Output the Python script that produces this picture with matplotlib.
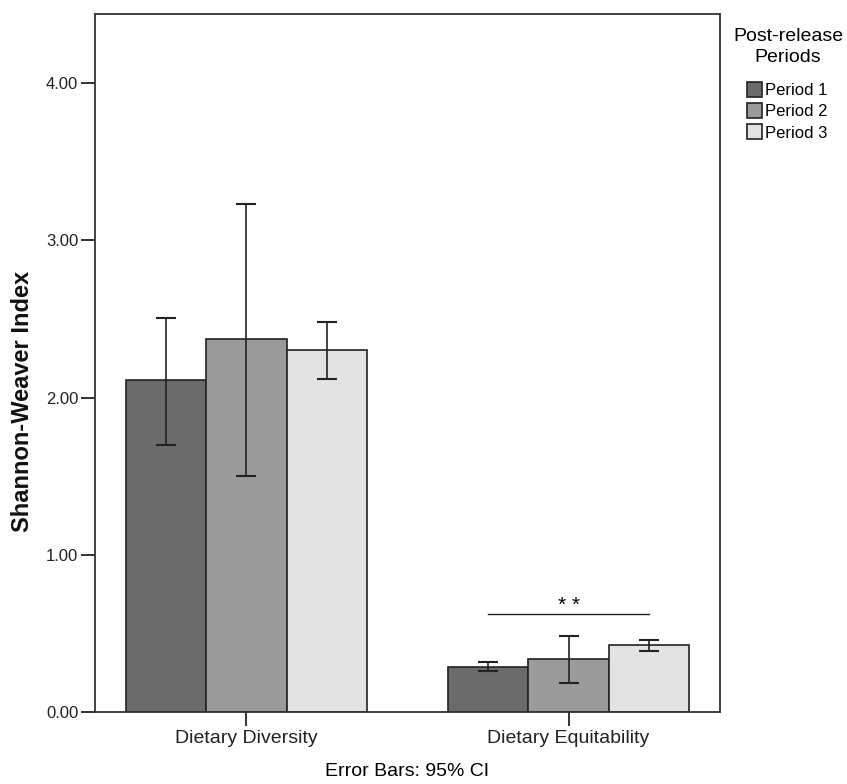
import matplotlib.pyplot as plt
import numpy as np
from matplotlib.patches import Patch
from matplotlib.ticker import FormatStrFormatter

plt.rcParams['font.family'] = ['Liberation Sans', 'DejaVu Sans']

categories = ["Dietary Diversity", "Dietary Equitability"]
periods = ["Period 1", "Period 2", "Period 3"]
colors = ["#6b6b6b", "#9b9b9b", "#e3e3e3"]

# mean values per period (diversity, equitability)
means = [
    [2.11, 0.286],
    [2.37, 0.335],
    [2.30, 0.424],
]
# 95% CI lower / upper
ci_low = [
    [1.70, 0.259],
    [1.50, 0.184],
    [2.12, 0.390],
]
ci_high = [
    [2.505, 0.318],
    [3.23, 0.481],
    [2.48, 0.456],
]

fig = plt.figure(figsize=(8.47, 7.84), dpi=100)
ax = fig.add_axes([95 / 847, 1 - 712 / 784, 625 / 847, 698 / 784])

x = np.arange(len(categories))
width = 0.25
for i in range(len(periods)):
    pos = x + (i - 1) * width
    m = np.array(means[i])
    lo = m - np.array(ci_low[i])
    hi = np.array(ci_high[i]) - m
    ax.bar(pos, m, width, color=colors[i], edgecolor="#222222", linewidth=1.2, zorder=2)
    ax.errorbar(pos, m, yerr=[lo, hi], fmt="none", ecolor="#222222",
                elinewidth=1.2, capsize=7, capthick=1.5, zorder=3)

# significance line
ax.plot([0.75, 1.25], [0.623, 0.623], color="#222222", linewidth=1)
ax.text(1.0, 0.678, "* *", ha="center", va="center", fontsize=15)

ax.set_xlim(-0.47, 1.47)
ax.set_ylim(0, 4.44)
ax.set_yticks([0, 1, 2, 3, 4])
ax.yaxis.set_major_formatter(FormatStrFormatter("%.2f"))
ax.set_xticks(x)
ax.set_xticklabels(categories)
ax.tick_params(axis="both", direction="out", length=10, width=1.3, colors="#222222")
ax.tick_params(axis="y", labelsize=12, pad=2)
ax.tick_params(axis="x", labelsize=14, pad=3)
for s in ax.spines.values():
    s.set_linewidth(1.3)
    s.set_color("#333333")

fig.text(0.027, 1 - 401 / 784, "Shannon-Weaver Index", rotation=90, ha="center", va="center",
         fontsize=17, fontweight="bold", color="#111111")
fig.text(407.5 / 847, 1 - 772 / 784, "Error Bars: 95% CI", ha="center", va="center", fontsize=14)

# legend title drawn apart from the entries to keep the gap seen in the original
fig.text(788 / 847, 1 - 47 / 784, "Post-release\nPeriods", ha="center", va="center",
         fontsize=14, linespacing=1.25)
handles = [Patch(facecolor=c, edgecolor="#222222", linewidth=1.2) for c in colors]
leg = fig.legend(handles, periods, loc="upper left",
                 bbox_to_anchor=(747 / 847, 1 - 82 / 784), frameon=False, fontsize=12,
                 handlelength=0.9, handleheight=1.0, handletextpad=0.15,
                 labelspacing=0.3, borderaxespad=0, borderpad=0)

fig.savefig("out.png", dpi=100, facecolor="white")
